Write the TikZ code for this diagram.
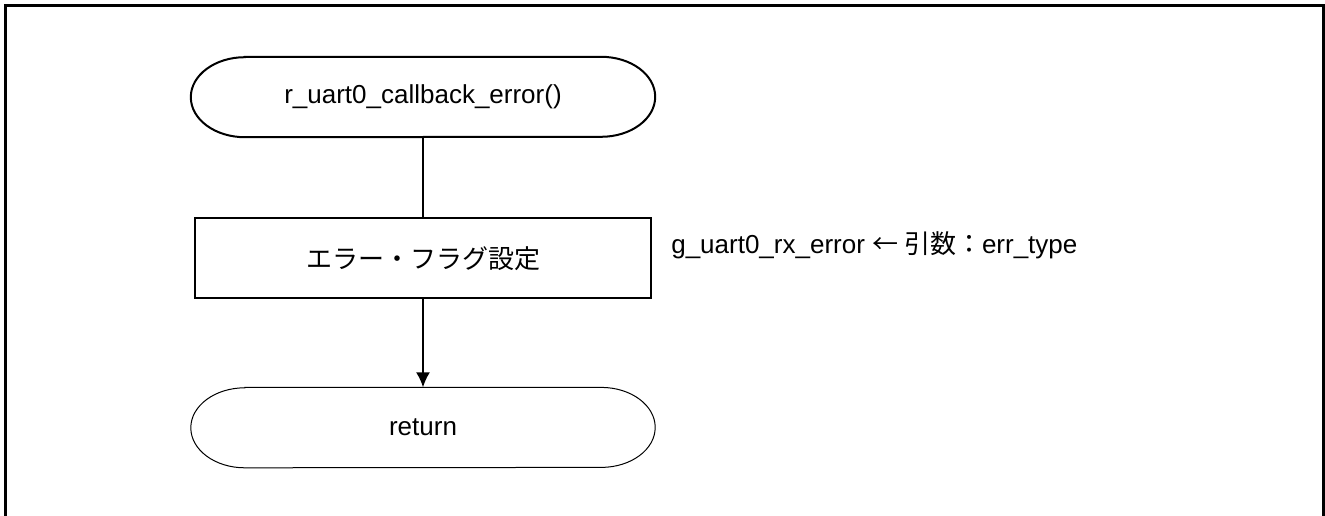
\documentclass[tikz,border=0pt]{standalone}
\usepackage{fontspec}
\setmainfont{Liberation Sans}
\newfontfamily\cjk{Noto Sans CJK JP}
\usetikzlibrary{positioning,arrows.meta}

\begin{document}
\begin{tikzpicture}[
  x=1pt, y=-1pt,
  node distance=80pt and 19pt,
  font=\fontsize{26pt}{31pt}\selectfont,
  term/.style={minimum width=464pt,minimum height=80pt,inner sep=0pt},
  procbox/.style={draw,line width=2.2pt,minimum width=456pt,minimum height=80pt,inner sep=0pt},
  termend/.style={x radius=54pt,y radius=40pt}
]
\useasboundingbox (0,0) rectangle (1325,516);
\draw[line width=3pt] (5,520) -- (5,6) -- (1323,6) -- (1323,520);
\node[term] (start) at (423,97) {r\_uart0\_callback\_error()};
\node[procbox,below=of start] (flag) {\cjk エラー・フラグ設定};
\node[term,below=88pt of flag] (ret) {return};
\node[right=19pt of flag.east,yshift=13pt,inner sep=0pt] (note)
  {g\_uart0\_rx\_error {\cjk ← 引数：}err\_type};
% terminal outlines with elliptic ends
\draw[line width=2pt] ([xshift=54pt]start.north west) -- ([xshift=-54pt]start.north east)
  arc[start angle=90,end angle=-90,termend] -- ([xshift=54pt]start.south west)
  arc[start angle=270,end angle=90,termend] -- cycle;
\draw[line width=1pt] ([xshift=54pt]ret.north west) -- ([xshift=-54pt]ret.north east)
  arc[start angle=90,end angle=-90,termend] -- ([xshift=54pt]ret.south west)
  arc[start angle=270,end angle=90,termend] -- cycle;
\path (start) edge[line width=2pt] (flag)
(flag) edge[line width=2pt,-{Latex[length=15pt,width=14pt]}] (ret);
\end{tikzpicture}
\end{document}
